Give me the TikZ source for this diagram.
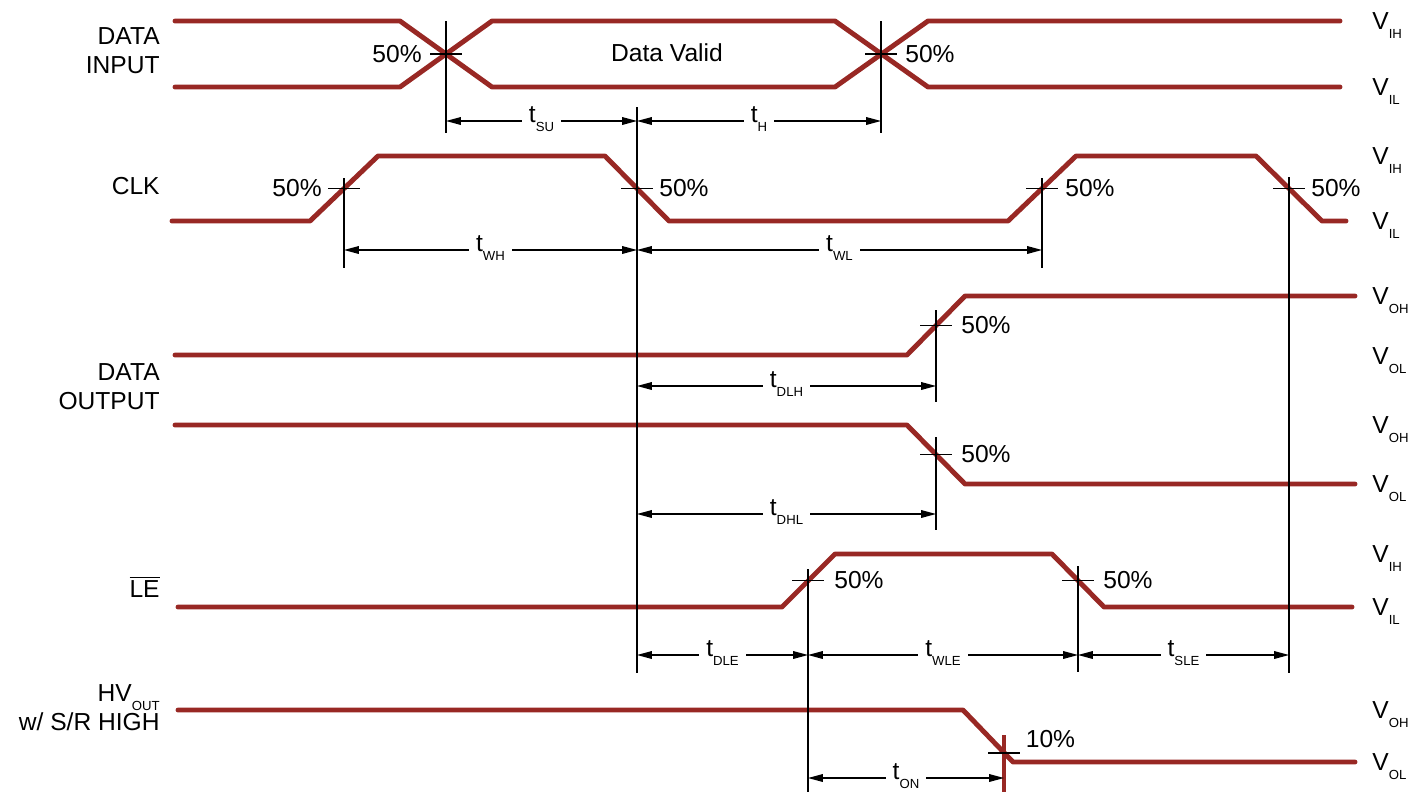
\documentclass[tikz,border=0pt]{standalone}
\usepackage{fontspec}
\setmainfont{Liberation Sans}
\usepackage{tikz}
\usetikzlibrary{positioning,arrows.meta}

\definecolor{wavered}{RGB}{152,40,36}
\newcommand{\lsub}[1]{\raisebox{-4.8pt}{\fontsize{7.5}{9}\selectfont #1}}

\tikzset{
  wave/.style={wavered, line width=2.8pt, line cap=round, line join=round},
  meas/.style={black, line width=0.65pt},
  dim/.style={meas, {Triangle[length=8.5pt,width=4.4pt]}-{Triangle[length=8.5pt,width=4.4pt]}},
  tlbl/.style={fill=white, anchor=base, inner xsep=4pt, inner ysep=1pt, yshift=-1.1pt},
  pct/.style={inner sep=0pt},
  vlbl/.style={anchor=base west, inner sep=0pt, yshift=-5pt},
  sig/.style={align=right, anchor=east, inner sep=0pt}
}

\begin{document}
\begin{tikzpicture}[x=0.02cm, y=-0.02cm, font=\fontsize{14}{16.5}\selectfont]
  \useasboundingbox (0,0) rectangle (1411,792);
  % Signal names
  \node[sig] (nIn) at (160,51) {DATA\\INPUT};
  \node[sig] (nClk) at (160,186) {CLK};
  \node[sig] (nOut) at (160,387) {DATA\\OUTPUT};
  \node[sig] (nLe) at (160,587) {$\overline{\mbox{LE}}$};
  \node[sig] (nHv) at (160,708) {HV\lsub{OUT}\\w/ S/R HIGH};
  % Crossing points
  \coordinate (dA) at (446,54);
  \coordinate (dB) at (881,54);
  \coordinate (cA) at (344,188.5);
  \coordinate (cB) at (637,188.5);
  \coordinate (cC) at (1042,188.5);
  \coordinate (cD) at (1289,188.5);
  \coordinate (oR) at (936,325.5);
  \coordinate (oF) at (936,454.5);
  \coordinate (lA) at (808,580.5);
  \coordinate (lB) at (1078,580.5);
  \coordinate (hT) at (1004,753);
  % Waveforms
  \draw[wave] (175,21) -- (400,21) -- (492,87) -- (835,87) -- (928,21) -- (1340,21);
  \draw[wave] (175,87) -- (400,87) -- (492,21) -- (835,21) -- (928,87) -- (1340,87);
  \draw[wave] (172,221) -- (310,221) -- (378,156) -- (605,156) -- (669,221) -- (1008,221)
    -- (1076,156) -- (1256,156) -- (1322,221) -- (1346,221);
  \draw[wave] (175,355) -- (907,355) -- (965,296) -- (1355,296);
  \draw[wave] (175,425) -- (907,425) -- (965,484) -- (1355,484);
  \draw[wave] (178,607) -- (782,607) -- (835,554) -- (1052,554) -- (1104,607) -- (1352,607);
  \draw[wave] (178,710) -- (963,710) -- (1013,762) -- (1355,762);
  \draw[wave, line cap=butt] (hT |- 0,735) -- (hT |- 0,792);
  \node (dv) at (667,53) {Data Valid};
  % Timing marks
  \foreach \c/\ya/\yb in {dA/21/133, dB/21/133, cA/178/268, cB/107/673, cC/178/268,
      cD/177/673, oR/310/402, oF/437/530, lA/569/792, lB/566/672}
    \draw[meas] (\c |- 0,\ya) -- (\c |- 0,\yb);
  \foreach \c in {dA,dB,cA,cB,cC,cD,oR,oF,lA,lB,hT}
    \draw[meas] (\c) ++(-16,0) -- ++(32,0);
  % Timing arrows
  \foreach \p/\q/\yy/\lab in {dA/cB/121/SU, cB/dB/121/H, cA/cB/250/WH, cB/cC/250/WL,
      cB/oR/386/DLH, cB/oF/514/DHL, cB/lA/655/DLE, lA/lB/655/WLE, lB/cD/655/SLE, lA/hT/778/ON}
    \draw[dim] (\p |- 0,\yy) -- (\q |- 0,\yy) node[midway, tlbl] (t\lab) {t\lsub{\lab}};
  % Threshold levels
  \node[pct, left=0.48cm of dA] (pA) {50\%};
  \node[pct, right=0.48cm of dB] (pB) {50\%};
  \node[pct, left=0.44cm of cA] (pC) {50\%};
  \node[pct, right=0.44cm of cB] (pD) {50\%};
  \node[pct, right=0.46cm of cC] (pE) {50\%};
  \node[pct, right=0.44cm of cD] (pF) {50\%};
  \node[pct, right=0.5cm of oR] (pG) {50\%};
  \node[pct, right=0.5cm of oF] (pH) {50\%};
  \node[pct, right=0.52cm of lA] (pI) {50\%};
  \node[pct, right=0.5cm of lB] (pJ) {50\%};
  \node[pct, above right=0.1cm and 0.43cm of hT] (pK) {10\%};
  % Voltage levels
  \foreach \yy/\s [count=\i] in {21/IH, 87/IL, 156/IH, 221/IL, 296/OH, 356/OL,
      425/OH, 484/OL, 554/IH, 607/IL, 710/OH, 762/OL}
    \node[vlbl] (v\i) at (1372,\yy) {V\lsub{\s}};
\end{tikzpicture}
\end{document}
